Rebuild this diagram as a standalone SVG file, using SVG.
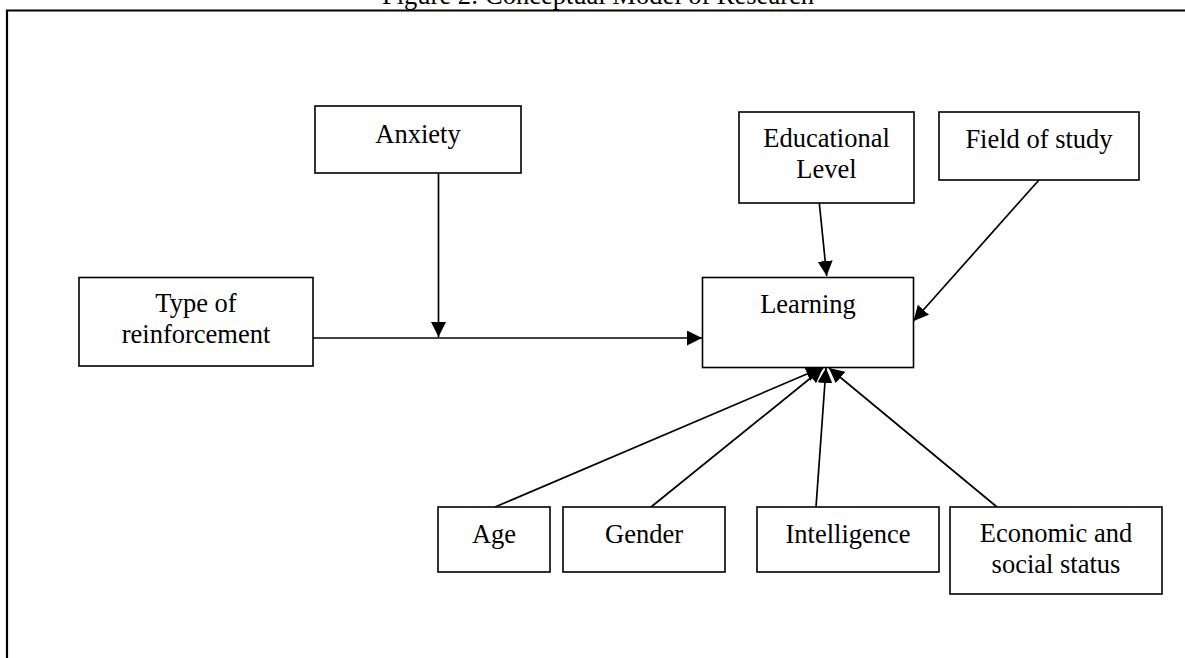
<svg xmlns="http://www.w3.org/2000/svg" width="1185" height="658" viewBox="0 0 1185 658">
<style>
text{font-family:"Liberation Serif","Times New Roman",serif;font-size:26.5px;fill:#000;text-anchor:middle}
.box{fill:#fff;stroke:#000;stroke-width:1.6}
.ln{fill:none;stroke:#000;stroke-width:1.7}
</style>
<defs>
<marker id="ah" markerUnits="userSpaceOnUse" markerWidth="16" markerHeight="16" refX="15" refY="7.5" orient="auto">
<path d="M0,0 L15,7.5 L0,15 z" fill="#000"/>
</marker>
</defs>
<rect width="1185" height="658" fill="#fff"/>
<text x="598" y="4">Figure 2: Conceptual Model of Research</text>
<path d="M7,660 V10.5 H1190" fill="none" stroke="#000" stroke-width="2.2"/>
<g id="connectors">
<line class="ln" x1="313" y1="338" x2="702" y2="338" marker-end="url(#ah)"/>
<line class="ln" x1="438.5" y1="173" x2="438.5" y2="337" marker-end="url(#ah)"/>
<line class="ln" x1="819.3" y1="203" x2="826.7" y2="276" marker-end="url(#ah)"/>
<line class="ln" x1="1039" y1="180" x2="913.5" y2="321" marker-end="url(#ah)"/>
<line class="ln" x1="495" y1="507" x2="821" y2="368" marker-end="url(#ah)"/>
<line class="ln" x1="651" y1="507" x2="823" y2="368" marker-end="url(#ah)"/>
<line class="ln" x1="816" y1="507" x2="826" y2="368" marker-end="url(#ah)"/>
<line class="ln" x1="997" y1="507" x2="829" y2="368" marker-end="url(#ah)"/>
</g>
<g id="anxiety"><rect class="box" x="315" y="106" width="206" height="67"/><text x="418" y="143">Anxiety</text></g>
<g id="reinforcement"><rect class="box" x="79" y="277.5" width="234" height="88.5"/><text x="196" y="312">Type of</text><text x="196" y="343">reinforcement</text></g>
<g id="educational"><rect class="box" x="739" y="112" width="175" height="91"/><text x="826.5" y="146.7">Educational</text><text x="826.5" y="178.3">Level</text></g>
<g id="field"><rect class="box" x="939" y="112" width="200" height="68"/><text x="1039" y="147.7">Field of study</text></g>
<g id="learning"><rect class="box" x="702.5" y="277.5" width="211" height="90"/><text x="808" y="313.3">Learning</text></g>
<g id="age"><rect class="box" x="438" y="507" width="112" height="65"/><text x="494" y="543">Age</text></g>
<g id="gender"><rect class="box" x="563" y="507" width="162" height="65"/><text x="644" y="543">Gender</text></g>
<g id="intelligence"><rect class="box" x="757" y="507" width="182" height="65"/><text x="848" y="543">Intelligence</text></g>
<g id="economic"><rect class="box" x="950" y="507" width="212" height="87"/><text x="1056" y="541.7">Economic and</text><text x="1056" y="573.3">social status</text></g>
</svg>
